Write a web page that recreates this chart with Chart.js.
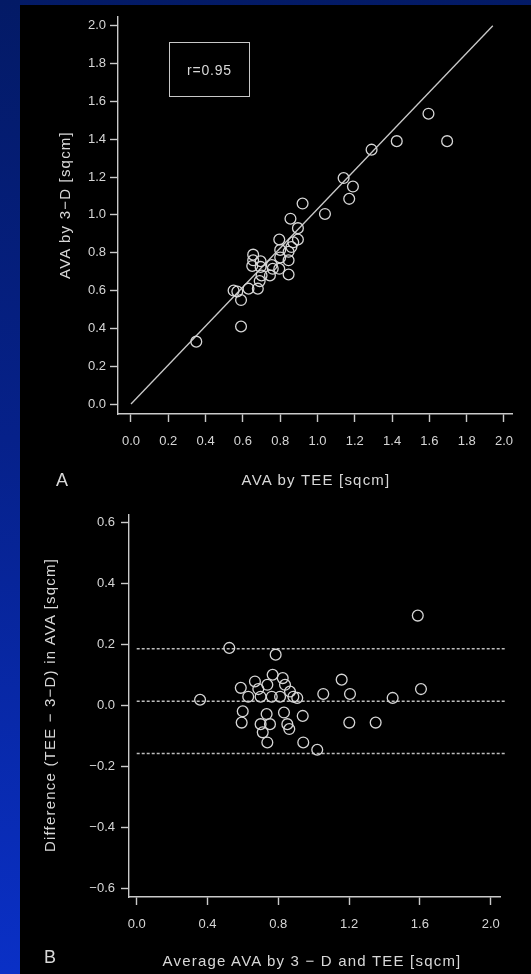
<!DOCTYPE html>
<html>
<head>
<meta charset="utf-8">
<script src="https://cdn.jsdelivr.net/npm/chart.js@4.4.1/dist/chart.umd.min.js"></script>
<style>
  html, body { margin: 0; padding: 0; }
  body {
    width: 531px; height: 974px; overflow: hidden; position: relative;
    background: linear-gradient(to bottom, #031a66 0%, #06218a 45%, #0a30c6 100%);
    font-family: "Liberation Sans", Arial, Helvetica, sans-serif;
  }
  #panel { position: absolute; left: 20px; top: 5px; width: 511px; height: 969px; background: #000; }
  #wrapA { position: absolute; left: 0; top: 0; width: 511px; height: 490px; }
  #wrapB { position: absolute; left: 0; top: 495px; width: 511px; height: 474px; }
  .txt {
    position: absolute; color: #d8d8d8; white-space: nowrap;
    font-size: 15px; letter-spacing: 1.2px; line-height: 1;
    transform: translate(-50%, -50%);
  }
  .rot { transform: translate(-50%, -50%) rotate(-90deg); }
  .panelTag { font-size: 18px; letter-spacing: 0; }
  #rbox {
    position: absolute; left: 169px; top: 42px; width: 79px; height: 53px;
    border: 1.5px solid #c8c8c8; color: #d8d8d8; font-size: 14px; letter-spacing: 0.8px;
    display: flex; align-items: center; justify-content: center;
  }
</style>
</head>
<body>
<div id="panel">
  <div id="wrapA"><canvas id="chartA" width="511" height="490"></canvas></div>
  <div id="wrapB"><canvas id="chartB" width="511" height="474"></canvas></div>
</div>
<div id="rbox">r=0.95</div>
<div class="txt" style="left:316px;top:479px;">AVA by TEE [sqcm]</div>
<div class="txt rot" style="left:64px;top:205px;">AVA by 3−D [sqcm]</div>
<div class="txt panelTag" style="left:62px;top:480px;">A</div>
<div class="txt" style="left:312px;top:960px;">Average AVA by 3 − D and TEE [sqcm]</div>
<div class="txt rot" style="left:49px;top:705px;">Difference (TEE − 3−D) in AVA [sqcm]</div>
<div class="txt panelTag" style="left:50px;top:957px;">B</div>

<script>
// Panel A: aortic valve area by TEE (x) against 3-D reconstruction (y), sqcm
const teeArea    = [0.35, 0.59, 0.55, 0.57, 0.59, 0.63, 0.68, 0.69, 0.70, 0.745, 0.65, 0.655, 0.655, 0.695, 0.695, 0.76, 0.795, 0.845, 0.795, 0.80, 0.845, 0.845, 0.86, 0.87, 0.895, 0.895, 0.855, 0.92, 1.04, 1.17, 1.19, 1.14, 1.29, 1.425, 1.595, 1.695, 0.755, 0.80];
const threeDArea = [0.33, 0.41, 0.60, 0.595, 0.55, 0.61, 0.61, 0.65, 0.68, 0.68, 0.73, 0.76, 0.79, 0.755, 0.725, 0.715, 0.715, 0.685, 0.87, 0.815, 0.76, 0.805, 0.83, 0.855, 0.87, 0.93, 0.98, 1.06, 1.005, 1.085, 1.15, 1.195, 1.345, 1.39, 1.535, 1.39, 0.735, 0.775];
// fitted line end points
const fitLineX = [0.0, 1.94];
const fitLineY = [0.0, 2.0];
const ticksA = [0.0, 0.2, 0.4, 0.6, 0.8, 1.0, 1.2, 1.4, 1.6, 1.8, 2.0];
const tickLabelsA = ["0.0", "0.2", "0.4", "0.6", "0.8", "1.0", "1.2", "1.4", "1.6", "1.8", "2.0"];

// Panel B: Bland-Altman, mean of both methods vs difference (TEE - 3-D)
const avgArea  = [0.523, 0.785, 0.358, 0.588, 0.63, 0.668, 0.70, 0.687, 0.738, 0.768, 0.763, 0.81, 0.825, 0.838, 0.866, 0.885, 0.907, 0.599, 0.593, 0.734, 0.70, 0.753, 0.712, 0.738, 0.832, 0.851, 0.862, 0.938, 0.941, 1.02, 1.054, 1.158, 1.205, 1.201, 1.35, 1.446, 1.606, 1.588];
const diffArea = [0.188, 0.166, 0.018, 0.057, 0.028, 0.078, 0.028, 0.053, 0.067, 0.10, 0.028, 0.028, 0.089, 0.067, 0.045, 0.028, 0.024, -0.02, -0.057, -0.029, -0.062, -0.062, -0.089, -0.122, -0.024, -0.062, -0.078, -0.035, -0.122, -0.146, 0.037, 0.084, 0.037, -0.057, -0.057, 0.024, 0.053, 0.294];
// mean difference and limits of agreement
const limitValues = [0.185, 0.013, -0.158];
const ticksBx = [0.0, 0.4, 0.8, 1.2, 1.6, 2.0];
const tickLabelsBx = ["0.0", "0.4", "0.8", "1.2", "1.6", "2.0"];
const ticksBy = [0.6, 0.4, 0.2, 0.0, -0.2, -0.4, -0.6];
const tickLabelsBy = ["0.6", "0.4", "0.2", "0.0", "−0.2", "−0.4", "−0.6"];

const INK = '#d6d6d6';
const LINE = '#cacaca';
const tickFont = { family: '"Liberation Sans", Arial, sans-serif', size: 13 };

function axis(opts) {
  return {
    type: 'linear',
    min: opts.min, max: opts.max,
    afterBuildTicks: s => { s.ticks = opts.ticks.map(v => ({ value: v })); },
    afterFit: s => { if (opts.width) s.width = opts.width; if (opts.height) s.height = opts.height; },
    ticks: {
      color: INK, font: tickFont, padding: opts.padding, autoSkip: false, maxRotation: 0,
      callback: (v, i) => opts.labels[i]
    },
    grid: { display: true, drawOnChartArea: false, drawTicks: true, tickLength: 8, tickWidth: 1.4, tickColor: LINE },
    border: { display: true, color: LINE, width: 1.4 }
  };
}

const circleStyle = {
  pointStyle: 'circle', pointRadius: 5.4, pointHoverRadius: 5.4,
  borderColor: '#d6d6d6', backgroundColor: 'rgba(0,0,0,0)', borderWidth: 1.3, showLine: false
};

new Chart(document.getElementById('chartA'), {
  type: 'scatter',
  data: {
    datasets: [
      Object.assign({ data: teeArea.map((x, i) => ({ x, y: threeDArea[i] })) }, circleStyle),
      {
        data: fitLineX.map((x, i) => ({ x, y: fitLineY[i] })),
        showLine: true, pointRadius: 0, borderColor: LINE, borderWidth: 1.3
      }
    ]
  },
  options: {
    responsive: false, animation: false, devicePixelRatio: 1,
    layout: { padding: { left: 0, top: 10, right: 19, bottom: 41 } },
    plugins: { legend: { display: false }, tooltip: { enabled: false } },
    scales: {
      x: axis({ min: -0.0697, max: 2.0429, ticks: ticksA, labels: tickLabelsA, height: 40, padding: 12 }),
      y: axis({ min: -0.0526, max: 2.0474, ticks: ticksA, labels: tickLabelsA, width: 98, padding: 4 })
    }
  }
});

new Chart(document.getElementById('chartB'), {
  type: 'scatter',
  data: {
    datasets: [
      Object.assign({ data: avgArea.map((x, i) => ({ x, y: diffArea[i] })) }, circleStyle),
      ...limitValues.map(v => ({
        data: [{ x: 0.0, y: v }, { x: 2.08, y: v }],
        showLine: true, pointRadius: 0, borderColor: '#bdbdbd', borderWidth: 1.5,
        borderDash: [3, 2], clip: false
      }))
    ]
  },
  options: {
    responsive: false, animation: false, devicePixelRatio: 1,
    layout: { padding: { left: 0, top: 15, right: 31, bottom: 37 } },
    plugins: { legend: { display: false }, tooltip: { enabled: false } },
    scales: {
      x: axis({ min: -0.0435, max: 2.0525, ticks: ticksBx, labels: tickLabelsBx, height: 40, padding: 12 }),
      y: axis({ min: -0.629, max: 0.624, ticks: ticksBy, labels: tickLabelsBy, width: 109, padding: 6 })
    }
  }
});
</script>
</body>
</html>
